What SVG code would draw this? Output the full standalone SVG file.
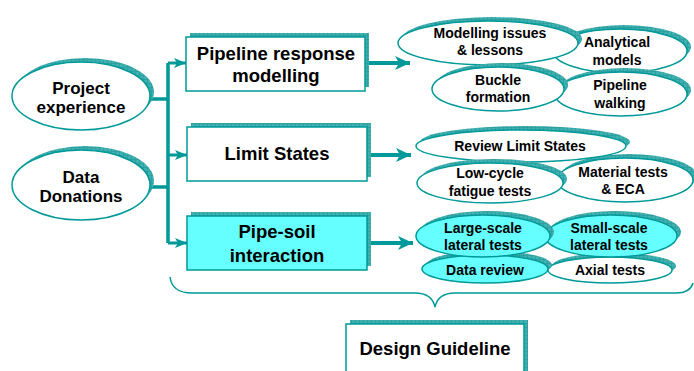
<svg xmlns="http://www.w3.org/2000/svg" width="694" height="371" viewBox="0 0 694 371">
<defs>
<pattern id="grid" width="4" height="4" patternUnits="userSpaceOnUse">
<rect width="4" height="4" fill="#3fb0b0"/>
<path d="M3.5,0 V4 M0,3.5 H4" stroke="#2c9c9c" stroke-width="0.8"/>
</pattern>
<marker id="big" markerUnits="userSpaceOnUse" markerWidth="18" markerHeight="16" refX="16" refY="8" orient="auto">
<path d="M16,8 L1,1 L5,8 L1,15 Z" fill="#009999"/>
</marker>
<marker id="small" markerUnits="userSpaceOnUse" markerWidth="14" markerHeight="12" refX="13" refY="6" orient="auto">
<path d="M13,6 L1,1 L4,6 L1,11 Z" fill="#009999"/>
</marker>
</defs>
<style>
.sh{fill:url(#grid);stroke:none}
.w{fill:#ffffff;stroke:#009999;stroke-width:1.5}
.c{fill:#66ffff;stroke:#009999;stroke-width:1.5}
text{font-family:"Liberation Sans",Arial,sans-serif;font-weight:bold;fill:#000;text-anchor:middle}
.t17{font-size:17px}
.t19{font-size:18.5px}
.t14{font-size:14px}
.ln{fill:none;stroke:#009999}
</style>
<rect width="694" height="371" fill="#ffffff"/>

<g id="connectors">
<path class="ln" stroke-width="3.5" d="M150,99 H168 M150,187 H168 M168,63 V243"/>
<path class="ln" stroke-width="3" d="M168,63 H186" marker-end="url(#small)"/>
<path class="ln" stroke-width="3" d="M168,155 H187" marker-end="url(#small)"/>
<path class="ln" stroke-width="3" d="M168,243 H187" marker-end="url(#small)"/>
<path class="ln" stroke-width="4" d="M369,63 H410" marker-end="url(#big)"/>
<path class="ln" stroke-width="4" d="M371,155 H411" marker-end="url(#big)"/>
<path class="ln" stroke-width="4" d="M371,243 H413" marker-end="url(#big)"/>
<path class="ln" stroke-width="1.5" d="M170,277 Q172,293 192,293 L415,293 Q432,293 435,307 Q438,293 455,293 L676,293 Q690,293 693,283"/>
</g>

<g id="project-experience">
<ellipse class="sh" cx="85" cy="92" rx="69" ry="34"/>
<ellipse class="w" cx="81" cy="96" rx="69" ry="34"/>
<text class="t17" x="81" y="94">Project</text>
<text class="t17" x="81" y="113">experience</text>
</g>
<g id="data-donations">
<ellipse class="sh" cx="85" cy="181" rx="69" ry="35"/>
<ellipse class="w" cx="81" cy="185" rx="69" ry="35"/>
<text class="t17" x="81" y="183">Data</text>
<text class="t17" x="81" y="202">Donations</text>
</g>

<g id="pipeline-response">
<rect class="sh" x="190" y="33" width="179" height="54"/>
<rect class="w" x="186" y="37" width="179" height="54"/>
<text class="t19" x="276" y="60">Pipeline response</text>
<text class="t19" x="276" y="82">modelling</text>
</g>
<g id="limit-states">
<rect class="sh" x="191" y="123" width="180" height="54"/>
<rect class="w" x="187" y="127" width="180" height="54"/>
<text class="t19" x="277" y="160">Limit States</text>
</g>
<g id="pipe-soil">
<rect class="sh" x="191" y="212" width="180" height="54"/>
<rect class="c" x="187" y="216" width="180" height="54"/>
<text class="t19" x="277" y="238">Pipe-soil</text>
<text class="t19" x="277" y="262">interaction</text>
</g>
<g id="design-guideline">
<rect class="sh" x="350" y="320" width="178" height="60"/>
<rect class="w" x="346" y="324" width="178" height="60"/>
<text class="t19" x="435" y="355">Design Guideline</text>
</g>

<g id="analytical-models">
<ellipse class="sh" cx="624" cy="47" rx="67" ry="22"/>
<ellipse class="w" cx="620" cy="51" rx="67" ry="22"/>
<text class="t14" x="617" y="47">Analytical</text>
<text class="t14" x="617" y="65">models</text>
</g>
<g id="pipeline-walking">
<ellipse class="sh" cx="625" cy="90" rx="66" ry="22"/>
<ellipse class="w" cx="621" cy="94" rx="66" ry="22"/>
<text class="t14" x="620" y="90">Pipeline</text>
<text class="t14" x="620" y="108">walking</text>
</g>
<g id="modelling-issues">
<ellipse class="sh" cx="492" cy="39" rx="90" ry="22"/>
<ellipse class="w" cx="488" cy="43" rx="90" ry="22"/>
<text class="t14" x="490" y="38">Modelling issues</text>
<text class="t14" x="490" y="55">&amp; lessons</text>
</g>
<g id="buckle-formation">
<ellipse class="sh" cx="502" cy="85" rx="66" ry="22"/>
<ellipse class="w" cx="498" cy="89" rx="66" ry="22"/>
<text class="t14" x="498" y="85">Buckle</text>
<text class="t14" x="498" y="102">formation</text>
</g>

<g id="material-tests">
<ellipse class="sh" cx="629" cy="176" rx="68" ry="22"/>
<ellipse class="w" cx="625" cy="180" rx="68" ry="22"/>
<text class="t14" x="623" y="177">Material tests</text>
<text class="t14" x="623" y="194">&amp; ECA</text>
</g>
<g id="review-limit-states">
<ellipse class="sh" cx="525" cy="142" rx="105" ry="16"/>
<ellipse class="w" cx="521" cy="146" rx="105" ry="16"/>
<text class="t14" x="520" y="151">Review Limit States</text>
</g>
<g id="low-cycle">
<ellipse class="sh" cx="494" cy="179" rx="73" ry="20"/>
<ellipse class="w" cx="490" cy="183" rx="73" ry="20"/>
<text class="t14" x="490" y="178">Low-cycle</text>
<text class="t14" x="490" y="196">fatigue tests</text>
</g>

<g id="axial-tests">
<ellipse class="sh" cx="614" cy="266" rx="62" ry="13"/>
<ellipse class="w" cx="610" cy="270" rx="62" ry="13"/>
<text class="t14" x="610" y="275">Axial tests</text>
</g>
<g id="data-review">
<ellipse class="sh" cx="489" cy="265" rx="63" ry="14"/>
<ellipse class="c" cx="485" cy="269" rx="63" ry="14"/>
<text class="t14" x="485" y="275">Data review</text>
</g>
<g id="small-scale">
<ellipse class="sh" cx="615" cy="232" rx="66" ry="21"/>
<ellipse class="c" cx="611" cy="236" rx="66" ry="21"/>
<text class="t14" x="609" y="233">Small-scale</text>
<text class="t14" x="609" y="250">lateral tests</text>
</g>
<g id="large-scale">
<ellipse class="sh" cx="487" cy="232" rx="67" ry="21"/>
<ellipse class="c" cx="483" cy="236" rx="67" ry="21"/>
<text class="t14" x="483" y="233">Large-scale</text>
<text class="t14" x="483" y="250">lateral tests</text>
</g>
</svg>
